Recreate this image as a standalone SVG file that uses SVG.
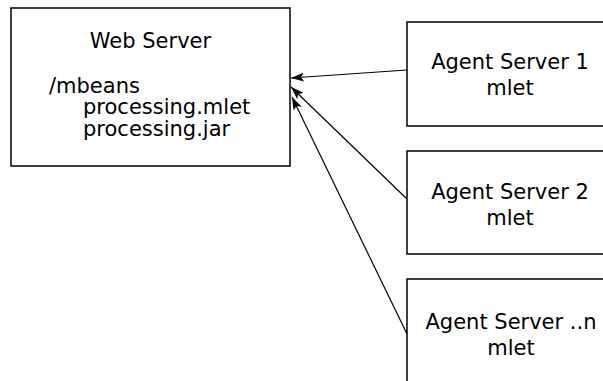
<svg xmlns="http://www.w3.org/2000/svg" width="603" height="381" viewBox="0 0 603 381">
<style>
.box{fill:#fff;stroke:#000;stroke-width:1.5}
.t{font-family:"DejaVu Sans",sans-serif;font-size:21px;fill:#000}
.c{text-anchor:middle}
.ln{stroke:#000;stroke-width:1.2;fill:none}
</style>
<defs>
<marker id="ah" viewBox="0 0 13 9" refX="13" refY="4.5" markerWidth="13" markerHeight="9" markerUnits="userSpaceOnUse" orient="auto">
<path d="M0,0 L13,4.5 L0,9 L3,4.5 Z" fill="#000"/>
</marker>
</defs>
<rect width="603" height="381" fill="#fff"/>
<g id="web-server">
<rect class="box" x="11" y="8" width="279" height="158"/>
<text class="t c" x="150.5" y="48">Web Server</text>
<text class="t" x="49" y="93">/mbeans</text>
<text class="t" x="83" y="114">processing.mlet</text>
<text class="t" x="83" y="136">processing.jar</text>
</g>
<g id="agent-1">
<rect class="box" x="407" y="22" width="220" height="104"/>
<text class="t c" x="510" y="69">Agent Server 1</text>
<text class="t c" x="510" y="95">mlet</text>
</g>
<g id="agent-2">
<rect class="box" x="407" y="151" width="220" height="103"/>
<text class="t c" x="510" y="199">Agent Server 2</text>
<text class="t c" x="510" y="225">mlet</text>
</g>
<g id="agent-n">
<rect class="box" x="407" y="279" width="220" height="120"/>
<text class="t c" x="511" y="329">Agent Server ..n</text>
<text class="t c" x="511" y="355">mlet</text>
</g>
<g id="connectors">
<line class="ln" x1="407" y1="70" x2="291" y2="78" marker-end="url(#ah)"/>
<line class="ln" x1="407" y1="199" x2="291" y2="87" marker-end="url(#ah)"/>
<line class="ln" x1="407" y1="334" x2="292" y2="97" marker-end="url(#ah)"/>
</g>
</svg>
